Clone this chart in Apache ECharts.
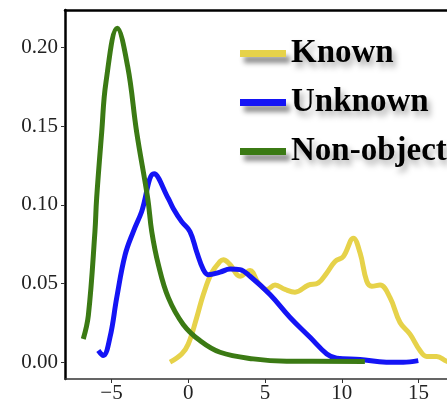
<!DOCTYPE html>
<html><head><meta charset="utf-8">
<script src="https://cdn.jsdelivr.net/npm/echarts@6/dist/echarts.min.js"></script>
<style>html,body{margin:0;padding:0;background:#fff}#c{width:447px;height:404px}</style>
</head><body><div id="c"></div>
<script>
const seriesNames = ['Known', 'Unknown', 'Non-object'];
const xTicks = [-5, 0, 5, 10, 15];
const yTicks = [0, 0.05, 0.10, 0.15, 0.20];

const knownX = [-1.19, -0.43, 0.0, 0.55, 0.98, 1.52, 2.07, 2.28, 2.72, 3.37, 4.02, 4.56, 5.11, 5.65, 6.30, 6.95, 7.82, 8.47, 9.02, 9.56, 10.1, 10.75, 11.19, 11.62, 11.95, 12.49, 13.14, 13.79, 14.44, 15.09, 15.53, 16.18, 16.83, 17.3];
const knownY = [0.0, 0.0052, 0.0115, 0.0284, 0.043, 0.0567, 0.064, 0.0651, 0.062, 0.0546, 0.0582, 0.0504, 0.0462, 0.049, 0.0462, 0.0445, 0.049, 0.0504, 0.0567, 0.064, 0.0672, 0.0788, 0.0693, 0.0515, 0.0483, 0.049, 0.041, 0.0252, 0.0178, 0.0074, 0.0036, 0.0036, 0.0006, 0.0];

const unknownX = [-5.86, -5.54, -5.1, -4.66, -4.12, -3.58, -3.04, -2.23, -1.30, -0.98, -0.43, 0.11, 0.55, 0.98, 1.30, 2.07, 2.72, 3.37, 4.02, 5.32, 6.63, 7.93, 9.02, 9.67, 11.19, 12.9, 14.0, 14.98];
const unknownY = [0.0074, 0.0042, 0.0158, 0.041, 0.068, 0.083, 0.0956, 0.1197, 0.104, 0.0977, 0.0893, 0.083, 0.070, 0.0588, 0.0556, 0.0572, 0.0592, 0.0588, 0.0546, 0.043, 0.0284, 0.0158, 0.0052, 0.0025, 0.0017, 0.0, 0.0, 0.001];

const nonObjX = [-6.84, -6.51, -6.08, -5.97, -5.64, -5.36, -4.63, -3.95, -3.36, -2.64, -2.38, -1.95, -1.30, -0.33, 0.76, 2.07, 4.23, 6.41, 11.5];
const nonObjY = [0.0147, 0.0296, 0.083, 0.104, 0.146, 0.178, 0.2122, 0.188, 0.146, 0.104, 0.083, 0.062, 0.041, 0.024, 0.0137, 0.0063, 0.0021, 0.0006, 0.0005];

const colors = ['#e6d24a', '#1414f5', '#3b7a14'];
const pair = (xs, ys) => xs.map((x, i) => [x, ys[i]]);
const serif = "'Liberation Serif', 'DejaVu Serif', serif";

const chart = echarts.init(document.getElementById('c'), null, {renderer: 'canvas'});
chart.setOption({
  animation: false,
  grid: {left: 65, top: 10, right: 0, bottom: 22},
  legend: {
    orient: 'vertical', left: 235, top: 32,
    itemWidth: 46, itemHeight: 7, itemGap: 16, itemTextGap: 10,
    data: seriesNames,
    icon: 'rect',
    itemStyle: {shadowBlur: 5, shadowColor: 'rgba(0,0,0,0.45)', shadowOffsetX: 4, shadowOffsetY: 6},
    textStyle: {fontFamily: serif, fontWeight: 'bold', fontSize: 33, color: '#000',
      textShadowBlur: 6, textShadowColor: 'rgba(0,0,0,0.35)', textShadowOffsetX: 3, textShadowOffsetY: 5}
  },
  xAxis: [{
    type: 'value', min: -8.03, max: 16.85,
    splitLine: {show: false},
    axisLine: {show: true, onZero: false, lineStyle: {color: '#333', width: 1.5}},
    axisTick: {show: true, length: 4, customValues: xTicks, lineStyle: {color: '#333', width: 1}},
    axisLabel: {customValues: xTicks, margin: 4, fontFamily: serif, fontSize: 21, color: '#222',
      formatter: v => (v < 0 ? '\u2212' + Math.abs(v) : String(v))}
  }, {
    type: 'value', position: 'top', min: -8.03, max: 16.85,
    splitLine: {show: false},
    axisLine: {show: true, onZero: false, lineStyle: {color: '#000', width: 2.5}},
    axisTick: {show: false}, axisLabel: {show: false}
  }],
  yAxis: {
    type: 'value', min: -0.0107, max: 0.2238,
    splitLine: {show: false},
    axisLine: {show: true, onZero: false, lineStyle: {color: '#000', width: 2.5}},
    axisTick: {show: true, length: 4, customValues: yTicks, lineStyle: {color: '#333', width: 1}},
    axisLabel: {customValues: yTicks, margin: 7, fontFamily: serif, fontSize: 21, color: '#222',
      formatter: v => v.toFixed(2)}
  },
  series: [
    {name: seriesNames[0], type: 'line', data: pair(knownX, knownY), smooth: 0.4, symbol: 'none', color: colors[0], lineStyle: {width: 5, color: colors[0]}, z: 2},
    {name: seriesNames[1], type: 'line', data: pair(unknownX, unknownY), smooth: 0.4, symbol: 'none', color: colors[1], lineStyle: {width: 5, color: colors[1]}, z: 3},
    {name: seriesNames[2], type: 'line', data: pair(nonObjX, nonObjY), smooth: 0.4, symbol: 'none', color: colors[2], lineStyle: {width: 5, color: colors[2]}, z: 4}
  ]
});
</script></body></html>
